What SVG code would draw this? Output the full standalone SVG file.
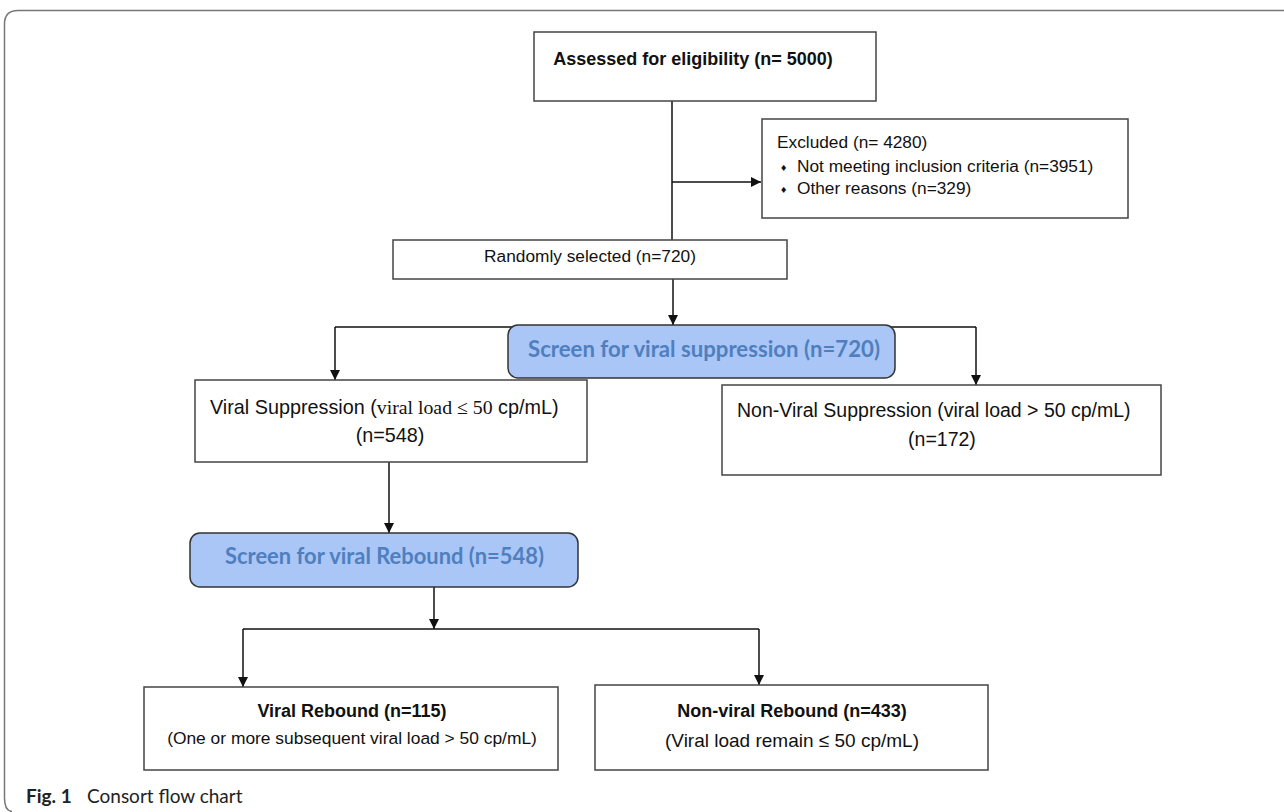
<svg xmlns="http://www.w3.org/2000/svg" width="1284" height="812" viewBox="0 0 1284 812">
<defs>
<marker id="ah" viewBox="0 0 10 10" refX="10" refY="5" markerWidth="10" markerHeight="10" markerUnits="userSpaceOnUse" orient="auto">
<path d="M0,0 L10,5 L0,10 z" fill="#111"/>
</marker>
<style>
.box{fill:#fff;stroke:#444;stroke-width:1.5}
.scr{fill:#a9c6f7;stroke:#333;stroke-width:1.5}
.t{font-family:"Liberation Sans",Arial,sans-serif;fill:#111}
.b{font-weight:bold}
.s{font-family:"Liberation Serif","Times New Roman",serif}
.st{font-family:Lato,"Open Sans",sans-serif;font-weight:bold;fill:#4f7fbe;font-size:22px}
.ln{fill:none;stroke:#111;stroke-width:1.5}
.cap{font-family:Lato,"Open Sans",sans-serif;fill:#222;font-size:19px}
</style>
</defs>
<rect width="1284" height="812" fill="#fff"/>
<path d="M1284,10.5 H18 Q4.5,10.5 4.5,24 V798 Q4.5,811 12,811.5" fill="none" stroke="#777" stroke-width="1.5"/>

<g id="connectors">
<path class="ln" d="M672,90 V240"/>
<path class="ln" d="M672,182 H761" marker-end="url(#ah)"/>
<path class="ln" d="M673,279 V325" marker-end="url(#ah)"/>
<path class="ln" d="M335,327 H976"/>
<path class="ln" d="M335,327 V380" marker-end="url(#ah)"/>
<path class="ln" d="M976,327 V385" marker-end="url(#ah)"/>
<path class="ln" d="M389,462 V533" marker-end="url(#ah)"/>
<path class="ln" d="M243,629 H759"/>
<path class="ln" d="M434,587 V629" marker-end="url(#ah)"/>
<path class="ln" d="M243,629 V687" marker-end="url(#ah)"/>
<path class="ln" d="M759,629 V685" marker-end="url(#ah)"/>
</g>

<g id="assessed">
<rect class="box" x="534" y="32" width="342" height="69"/>
<text class="t b" x="693" y="65" font-size="18" text-anchor="middle">Assessed for eligibility (n= 5000)</text>
</g>

<g id="excluded">
<rect class="box" x="762" y="119" width="366" height="99"/>
<text class="t" x="777" y="148" font-size="17.3">Excluded (n= 4280)</text>
<text class="t" x="781" y="171" font-size="10.5" font-family="DejaVu Sans">♦</text>
<text class="t" x="797" y="172" font-size="17.3">Not meeting inclusion criteria (n=3951)</text>
<text class="t" x="781" y="193" font-size="10.5" font-family="DejaVu Sans">♦</text>
<text class="t" x="797" y="194" font-size="17.3">Other reasons (n=329)</text>
</g>

<g id="randomly">
<rect class="box" x="393" y="240" width="394" height="39"/>
<text class="t" x="590" y="262" font-size="17.3" text-anchor="middle">Randomly selected (n=720)</text>
</g>

<g id="screen-suppression">
<rect class="scr" x="508" y="325" width="387" height="53" rx="10"/>
<text class="st" x="528" y="357" textLength="352" lengthAdjust="spacingAndGlyphs">Screen for viral suppression (n=720)</text>
</g>

<g id="viral-suppression">
<rect class="box" x="195" y="380" width="392" height="82"/>
<text class="t" x="210" y="414" font-size="19.8">Viral Suppression (<tspan class="s">viral load ≤ 50</tspan> cp/mL)</text>
<text class="t" x="390" y="442" font-size="19.8" text-anchor="middle">(n=548)</text>
</g>

<g id="non-viral-suppression">
<rect class="box" x="722" y="385" width="439" height="90"/>
<text class="t" x="737" y="417" font-size="19.5">Non-Viral Suppression (viral load &gt; 50 cp/mL)</text>
<text class="t" x="942" y="446" font-size="19.5" text-anchor="middle">(n=172)</text>
</g>

<g id="screen-rebound">
<rect class="scr" x="190" y="533" width="388" height="54" rx="10"/>
<text class="st" x="225" y="564" textLength="319" lengthAdjust="spacingAndGlyphs">Screen for viral Rebound (n=548)</text>
</g>

<g id="viral-rebound">
<rect class="box" x="144" y="687" width="414" height="83"/>
<text class="t b" x="352" y="717" font-size="18" text-anchor="middle">Viral Rebound (n=115)</text>
<text class="t" x="352" y="744" font-size="17.4" text-anchor="middle">(One or more subsequent viral load &gt; 50 cp/mL)</text>
</g>

<g id="non-viral-rebound">
<rect class="box" x="595" y="685" width="393" height="85"/>
<text class="t b" x="792" y="717" font-size="18" text-anchor="middle">Non-viral Rebound (n=433)</text>
<text class="t" x="792" y="747" font-size="19" text-anchor="middle">(Viral load remain ≤ 50 cp/mL)</text>
</g>

<g id="caption">
<text class="cap" x="26" y="803"><tspan font-weight="bold">Fig. 1</tspan><tspan x="87">Consort flow chart</tspan></text>
</g>
</svg>
